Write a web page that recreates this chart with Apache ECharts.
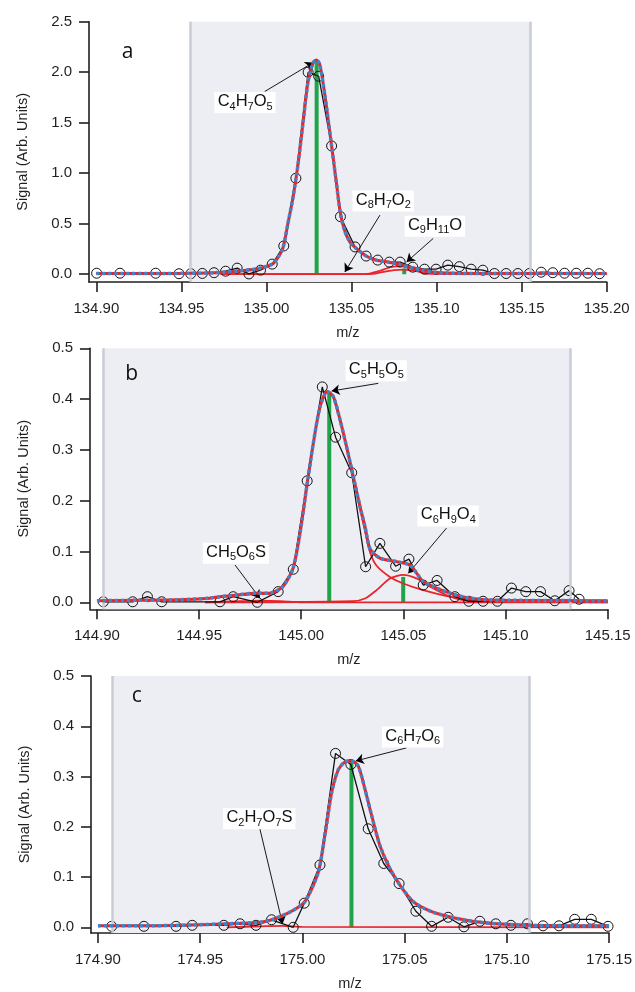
<!DOCTYPE html>
<html><head><meta charset="utf-8">
<script src="https://cdn.jsdelivr.net/npm/echarts@6/dist/echarts.min.js"></script>
<style>html,body{margin:0;padding:0;background:#fff}#c{width:635px;height:992px}</style>
</head><body><div id="c"></div>
<script>
// ---------------- DATA ----------------
// tick labels
const xTicksA = [134.90, 134.95, 135.00, 135.05, 135.10, 135.15, 135.20];
const yTicksA = [0.0, 0.5, 1.0, 1.5, 2.0, 2.5];
const xTicksB = [144.90, 144.95, 145.00, 145.05, 145.10, 145.15];
const yTicksB = [0.0, 0.1, 0.2, 0.3, 0.4, 0.5];
const xTicksC = [174.90, 174.95, 175.00, 175.05, 175.10, 175.15];
const yTicksC = [0.0, 0.1, 0.2, 0.3, 0.4, 0.5];

// panel a : observed spectrum (m/z, signal)
const obsMzA = [134.9002,134.9139,134.9349,134.9486,134.9555,134.9623,134.9692,134.9760,134.9828,134.9897,134.9965,135.0034,135.0102,135.0173,135.0245,135.0307,135.0383,135.0435,135.0521,135.0586,135.0654,135.0722,135.0786,135.0860,135.0929,135.0997,135.1066,135.1134,135.1203,135.1272,135.1340,135.1409,135.1478,135.1546,135.1615,135.1683,135.1752,135.1821,135.1889,135.1958];
const obsA   = [0.010,0.010,0.010,0.005,0.005,0.008,0.015,0.030,0.060,0.003,0.040,0.100,0.280,0.950,2.000,1.960,1.270,0.570,0.270,0.180,0.140,0.120,0.120,0.070,0.050,0.050,0.090,0.075,0.050,0.040,0.007,0.007,0.007,0.007,0.020,0.015,0.010,0.010,0.010,0.005];
// panel a : total fit
const fitMzA = [134.900,134.920,134.940,134.955,134.965,134.975,134.985,134.995,135.0034,135.0065,135.0097,135.0126,135.0156,135.0185,135.0215,135.0244,135.0273,135.0293,135.0313,135.0343,135.0365,135.0383,135.0410,135.0435,135.0460,135.0490,135.0521,135.0586,135.0645,135.0716,135.0780,135.0850,135.0920,135.0990,135.1060,135.1150,135.1300,135.2000];
const fitA   = [0.008,0.008,0.008,0.009,0.012,0.020,0.035,0.055,0.100,0.160,0.260,0.500,0.760,1.080,1.500,1.900,2.090,2.120,2.080,1.780,1.500,1.270,0.920,0.600,0.430,0.320,0.265,0.180,0.140,0.120,0.100,0.066,0.040,0.020,0.012,0.008,0.007,0.006];
// panel a : fitted components
const compMzA_C8H7O2 = [134.973,135.060,135.068,135.075,135.081,135.088,135.095,135.200];
const compA_C8H7O2   = [0.000,0.000,0.020,0.040,0.045,0.030,0.005,0.000];
const compMzA_C9H11O = [134.973,135.058,135.066,135.073,135.079,135.086,135.094,135.200];
const compA_C9H11O   = [0.000,0.000,0.030,0.070,0.080,0.050,0.008,0.000];
// panel a : assigned peak positions / heights
const stickMzA = [135.0295, 135.0810];
const stickA   = [2.12, 0.058];

// panel b
const obsMzB = [144.9031,144.9175,144.9247,144.9317,144.9602,144.9667,144.9785,144.9887,144.9961,145.0029,145.0103,145.0168,145.0247,145.0315,145.0385,145.0462,145.0527,145.0597,145.0665,145.0752,145.0820,145.0890,145.0960,145.1029,145.1099,145.1171,145.1241,145.1311,145.1360];
const obsB   = [0.001,0.001,0.011,0.001,0.001,0.011,0.000,0.021,0.065,0.239,0.424,0.325,0.255,0.070,0.116,0.071,0.085,0.034,0.043,0.011,0.002,0.002,0.002,0.028,0.021,0.021,0.003,0.023,0.006];
const fitMzB = [144.900,144.920,144.940,144.955,144.9602,144.9676,144.978,144.9845,144.991,144.996,144.9994,145.0027,145.0059,145.0092,145.0127,145.0157,145.019,145.0222,145.0255,145.0288,145.0312,145.0337,145.0385,145.0467,145.0532,145.0597,145.0662,145.0728,145.080,145.090,145.100,145.150];
const fitB   = [0.003,0.004,0.005,0.008,0.011,0.014,0.018,0.018,0.031,0.067,0.136,0.228,0.313,0.385,0.415,0.405,0.359,0.306,0.247,0.188,0.149,0.105,0.087,0.080,0.073,0.041,0.028,0.018,0.010,0.005,0.004,0.003];
const compMzB_C5H5O5 = [144.953,144.9602,144.9676,144.978,144.9845,144.991,144.996,144.9994,145.0027,145.0059,145.0092,145.0127,145.0157,145.019,145.0222,145.0255,145.0288,145.0312,145.0337,145.0369,145.0434,145.0499,145.0597,145.0728,145.085,145.100,145.150];
const compB_C5H5O5   = [0.007,0.010,0.013,0.016,0.017,0.030,0.066,0.135,0.227,0.312,0.384,0.414,0.404,0.358,0.305,0.246,0.185,0.140,0.098,0.072,0.050,0.037,0.024,0.011,0.005,0.003,0.002];
const compMzB_C6H9O4 = [144.953,145.025,145.0315,145.0369,145.0434,145.0499,145.0564,145.0629,145.0728,145.080,145.090,145.150];
const compB_C6H9O4   = [0.000,0.002,0.008,0.024,0.047,0.054,0.047,0.031,0.011,0.004,0.001,0.000];
const compMzB_CH5O6S = [144.953,144.970,144.980,144.990,145.000,145.150];
const compB_CH5O6S   = [0.000,0.002,0.003,0.002,0.000,0.000];
const stickMzB = [145.0137, 145.0499];
const stickB   = [0.415, 0.050];

// panel c
const obsMzC = [174.9067,174.9225,174.9382,174.9461,174.9616,174.9695,174.9773,174.9849,174.9955,175.0009,175.0086,175.0162,175.0237,175.0322,175.0398,175.0473,175.0555,175.0632,175.0713,175.0790,175.0868,175.0946,175.1020,175.1101,175.1177,175.1255,175.1332,175.1413,175.1495];
const obsC   = [0.002,0.002,0.002,0.004,0.004,0.007,0.004,0.015,0.000,0.048,0.124,0.346,0.324,0.196,0.127,0.087,0.032,0.002,0.020,0.001,0.012,0.007,0.004,0.007,0.003,0.003,0.016,0.016,0.002];
const fitMzC = [174.900,174.920,174.940,174.9695,174.9793,174.985,174.9947,175.0012,175.0078,175.011,175.0143,175.0176,175.0208,175.024,175.0273,175.0306,175.0339,175.0379,175.0428,175.0477,175.0542,175.0626,175.0707,175.0789,175.087,175.0952,175.1115,175.150];
const fitC   = [0.003,0.003,0.004,0.008,0.010,0.015,0.032,0.051,0.110,0.183,0.268,0.314,0.329,0.331,0.321,0.275,0.222,0.163,0.117,0.084,0.051,0.032,0.022,0.015,0.010,0.007,0.004,0.003];
const compMzC_C2H7O7S = [174.963,174.980,174.990,175.000,175.150];
const compC_C2H7O7S   = [0.000,0.002,0.003,0.001,0.000];
const stickMzC = [175.0240];
const stickC   = [0.331];

// peak annotations (formula, label centre, arrow start, arrow tip) in data units
const notesA = [
  {f:'C4H7O5', at:[134.9874,1.70], from:[134.9990,1.809], to:[135.0275,2.096]},
  {f:'C8H7O2', at:[135.0686,0.724], from:[135.0667,0.585], to:[135.0461,0.023]},
  {f:'C9H11O', at:[135.0990,0.476], from:[135.0980,0.354], to:[135.0824,0.122]}
];
const notesB = [
  {f:'C5H5O5', at:[145.0367,0.4557], from:[145.0377,0.431], to:[145.0149,0.416]},
  {f:'CH5O6S', at:[144.9680,0.0965], from:[144.9676,0.0734], to:[144.9798,0.0079]},
  {f:'C6H9O4', at:[145.0719,0.170], from:[145.0711,0.146], to:[145.0524,0.057]}
];
const notesC = [
  {f:'C6H7O6', at:[175.0539,0.3786], from:[175.0509,0.357], to:[175.0261,0.331]},
  {f:'C2H7O7S', at:[174.9789,0.2158], from:[174.9792,0.196], to:[174.9903,0.0065]}
];
// fitting windows (shaded)
const shadeA = [134.9553, 135.155];
const shadeB = [144.9031, 145.1315];
const shadeC = [174.9069, 175.1108];

// ---------------- LAYOUT / STYLE ----------------
const FONT = '"Liberation Sans", Arial, sans-serif';
const INK = '#231f20';
const RED = '#e8252c', BLUE = '#3b87cc', GREEN = '#21a349';
const zip = (a, b) => a.map((v, i) => [v, b[i]]);

const panels = [
  {grid:{left:89, top:21.7, width:517.7, height:260.3}, xr:[134.8957,135.20], yr:[-0.077,2.5],
   xt:xTicksA, yt:yTicksA, shade:shadeA, obs:[obsMzA,obsA], fit:[fitMzA,fitA],
   comps:[[compMzA_C8H7O2,compA_C8H7O2],[compMzA_C9H11O,compA_C9H11O]],
   stick:[stickMzA,stickA], notes:notesA, letter:{t:'a', x:127.5, y:52}},
  {grid:{left:90, top:348.3, width:517.7, height:261}, xr:[144.8966,145.15], yr:[-0.0138,0.5],
   xt:xTicksB, yt:yTicksB, shade:shadeB, obs:[obsMzB,obsB], fit:[fitMzB,fitB],
   comps:[[compMzB_CH5O6S,compB_CH5O6S],[compMzB_C5H5O5,compB_C5H5O5],[compMzB_C6H9O4,compB_C6H9O4]],
   stick:[stickMzB,stickB], notes:notesB, letter:{t:'b', x:131.7, y:374}},
  {grid:{left:91, top:676, width:518.3, height:259}, xr:[174.8966,175.15], yr:[-0.0113,0.5],
   xt:xTicksC, yt:yTicksC, shade:shadeC, obs:[obsMzC,obsC], fit:[fitMzC,fitC],
   comps:[[compMzC_C2H7O7S,compC_C2H7O7S]],
   stick:[stickMzC,stickC], notes:notesC, letter:{t:'c', x:136.7, y:696}}
];

const rich = {
  n:{fontFamily:FONT, fontSize:16.5, color:'#111', lineHeight:16, verticalAlign:'top'},
  s:{fontFamily:FONT, fontSize:11, color:'#111', lineHeight:8, verticalAlign:'bottom'},
  h:{fontSize:1, lineHeight:19}
};
function formula(f){
  return '{h| }' + f.replace(/(\d+)|([^\d]+)/g, (m, d, t) => d ? '{s|' + d + '}' : '{n|' + t + '}');
}

const option = {animation:false, backgroundColor:'#fff', grid:[], xAxis:[], yAxis:[], series:[], graphic:[]};

panels.forEach((p, i) => {
  option.grid.push(Object.assign({containLabel:false}, p.grid));
  option.xAxis.push({
    type:'value', gridIndex:i, min:p.xr[0], max:p.xr[1],
    name:'m/z', nameLocation:'middle', nameGap:43,
    nameTextStyle:{fontFamily:FONT, fontSize:14.5, color:INK},
    axisLine:{show:true, onZero:false, lineStyle:{color:INK, width:1.6}},
    axisTick:{show:true, length:10, lineStyle:{color:INK, width:1.6}, customValues:p.xt},
    axisLabel:{show:true, margin:19, fontFamily:FONT, fontSize:15, color:INK, customValues:p.xt,
               formatter:v => v.toFixed(2)},
    splitLine:{show:false}
  });
  option.yAxis.push({
    type:'value', gridIndex:i, min:p.yr[0], max:p.yr[1],
    name:'Signal (Arb. Units)', nameLocation:'middle', nameGap:59, nameRotate:90,
    nameTextStyle:{fontFamily:FONT, fontSize:14.5, color:INK},
    axisLine:{show:true, onZero:false, lineStyle:{color:INK, width:1.6}},
    axisTick:{show:true, length:10, lineStyle:{color:INK, width:1.6}, customValues:p.yt},
    axisLabel:{show:true, margin:17, fontFamily:FONT, fontSize:15, color:INK, customValues:p.yt,
               formatter:v => v.toFixed(1)},
    splitLine:{show:false}
  });
  const ax = {xAxisIndex:i, yAxisIndex:i};
  // shaded fitting window
  option.series.push(Object.assign({
    type:'line', data:[], silent:true, z:0,
    markArea:{silent:true, itemStyle:{color:'#eceef3'},
      data:[[{xAxis:p.shade[0], yAxis:p.yr[0]}, {xAxis:p.shade[1], yAxis:p.yr[1]}]]},
    markLine:{silent:true, symbol:'none', precision:8, label:{show:false},
      lineStyle:{color:'#c8ccd4', width:2.5, type:'solid'},
      data:[{xAxis:p.shade[0]}, {xAxis:p.shade[1]}]}
  }, ax));
  // peak sticks
  option.series.push(Object.assign({
    type:'custom', z:2, silent:true, data:zip(p.stick[0], p.stick[1]), encode:{x:0, y:1},
    renderItem:(params, api) => {
      const a = api.coord([api.value(0), 0]);
      const b = api.coord([api.value(0), api.value(1)]);
      return {type:'line', shape:{x1:a[0], y1:a[1], x2:b[0], y2:b[1]}, style:{stroke:GREEN, lineWidth:4}};
    }
  }, ax));
  // components
  p.comps.forEach(c => {
    option.series.push(Object.assign({
      type:'line', z:3, silent:true, showSymbol:false, smooth:0.25,
      data:zip(c[0], c[1]), lineStyle:{color:RED, width:1.8}
    }, ax));
  });
  // observations
  option.series.push(Object.assign({
    type:'line', z:4, silent:true, symbol:'circle', symbolSize:10, showSymbol:true,
    data:zip(p.obs[0], p.obs[1]),
    lineStyle:{color:'#111', width:1.3},
    itemStyle:{color:'rgba(0,0,0,0)', borderColor:'#111', borderWidth:1}
  }, ax));
  // total fit : red under blue dots
  option.series.push(Object.assign({
    type:'line', z:5, silent:true, showSymbol:false, smooth:0.25,
    data:zip(p.fit[0], p.fit[1]), lineStyle:{color:RED, width:3}
  }, ax));
  option.series.push(Object.assign({
    type:'line', z:6, silent:true, showSymbol:false, smooth:0.25,
    data:zip(p.fit[0], p.fit[1]), lineStyle:{color:BLUE, width:3.5, type:[3,3]}
  }, ax));
  // annotations
  option.series.push(Object.assign({
    type:'line', z:8, data:[], silent:true,
    markLine:{silent:true, symbol:['none','arrow'], symbolSize:8, precision:8, label:{show:false},
      lineStyle:{color:'#000', width:0.9, type:'solid'},
      data:p.notes.map(n => [{coord:n.from}, {coord:n.to}])},
    markPoint:{silent:true, symbol:'circle', symbolSize:0,
      data:p.notes.map(n => ({coord:n.at, value:0,
        label:{show:true, position:'inside', formatter:formula(n.f), rich:rich,
               backgroundColor:'#fff', padding:[1,3,1,3]}}))}
  }, ax));
  option.graphic.push({type:'text', x:p.letter.x, y:p.letter.y, z:20,
    style:{text:p.letter.t, font:'21px "Open Sans", sans-serif', fill:'#111', textAlign:'center', textVerticalAlign:'middle'}});
});

const chart = echarts.init(document.getElementById('c'), null, {renderer:'canvas'});
chart.setOption(option);
</script></body></html>
